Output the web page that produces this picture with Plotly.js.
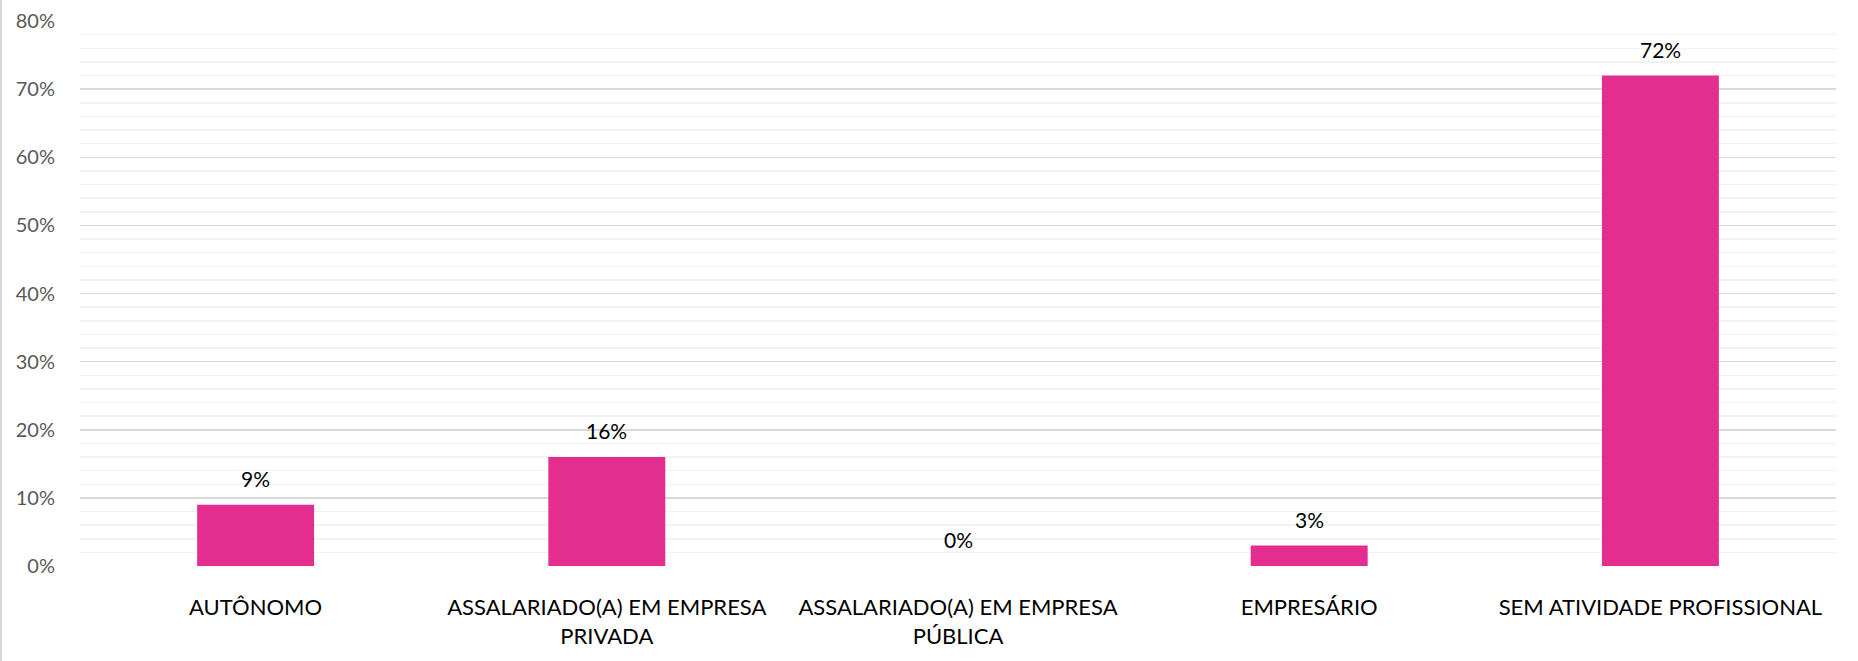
<!DOCTYPE html>
<html>
<head>
<meta charset="utf-8">
<script src="https://cdn.plot.ly/plotly-3.0.1.min.js"></script>
<style>
  html, body { margin: 0; padding: 0; background: #fff; }
  #chart { width: 1858px; height: 661px; box-sizing: border-box; border-left: 2px solid #d9d9d9; }
</style>
</head>
<body>
<div id="chart"></div>
<script>
const categories = [
  "AUTÔNOMO",
  "ASSALARIADO(A) EM EMPRESA<br>PRIVADA",
  "ASSALARIADO(A) EM EMPRESA<br>PÚBLICA",
  "EMPRESÁRIO",
  "SEM ATIVIDADE PROFISSIONAL"
];
const values = [9, 16, 0, 3, 72];
const valueLabels = ["9%", "16%", "0%", "3%", "72%"];
const yTickVals = [0, 10, 20, 30, 40, 50, 60, 70, 80];
const yTickText = ["0%", "10%", "20%", "30%", "40%", "50%", "60%", "70%", "80%"];

const barColor = "#E32E8F";

const trace = {
  type: "bar",
  x: categories,
  y: values,
  marker: { color: barColor, line: { width: 0 } },
  width: 0.333,
  hoverinfo: "skip"
};

const annotations = categories.map((c, i) => ({
  x: c,
  y: values[i],
  xref: "x",
  yref: "y",
  text: valueLabels[i],
  showarrow: false,
  yanchor: "bottom",
  yshift: 12,
  font: { family: "Lato, 'Open Sans', sans-serif", size: 21, color: "#000000" }
}));

const layout = {
  width: 1856,
  height: 661,
  margin: { l: 78, r: 22, t: 21, b: 95 },
  paper_bgcolor: "#ffffff",
  plot_bgcolor: "#ffffff",
  showlegend: false,
  bargap: 0.667,
  xaxis: {
    type: "category",
    showgrid: false,
    zeroline: false,
    showline: false,
    ticks: "outside",
    ticklen: 22,
    tickcolor: "rgba(0,0,0,0)",
    tickfont: { family: "Lato, 'Open Sans', sans-serif", size: 22, color: "#000000" },
    automargin: false
  },
  yaxis: {
    range: [0, 80],
    tickvals: yTickVals,
    ticktext: yTickText,
    showgrid: true,
    gridcolor: "#d9d9d9",
    gridwidth: 1.5,
    zeroline: false,
    showline: false,
    ticks: "outside",
    ticklen: 20,
    tickcolor: "rgba(0,0,0,0)",
    tickfont: { family: "Lato, 'Open Sans', sans-serif", size: 20, color: "#595959" },
    minor: { dtick: 2, showgrid: true, gridcolor: "#f2f2f2", gridwidth: 1.5, ticks: "" },
    automargin: false,
    fixedrange: true
  },
  annotations: annotations
};

Plotly.newPlot("chart", [trace], layout, { displayModeBar: false, staticPlot: true });
</script>
</body>
</html>
